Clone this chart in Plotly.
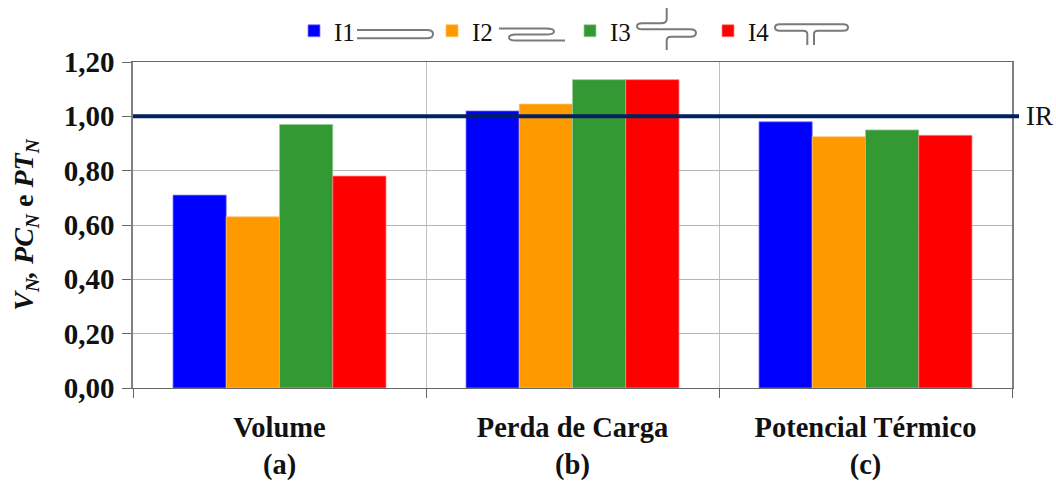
import re
import plotly.graph_objects as go

categories = ["Volume<br>(a)", "Perda de Carga<br>(b)", "Potencial Térmico<br>(c)"]
series_names = ["I1", "I2", "I3", "I4"]
i1 = [0.71, 1.02, 0.98]
i2 = [0.63, 1.045, 0.925]
i3 = [0.97, 1.135, 0.95]
i4 = [0.78, 1.135, 0.93]
colors = ["#0000FF", "#FF9900", "#339933", "#FF0000"]
edge_colors = ["#8080FF", "#FFC266", "#99CC99", "#FF8080"]
y_ticks = [0, 0.2, 0.4, 0.6, 0.8, 1.0, 1.2]
y_labels = ["0,00", "0,20", "0,40", "0,60", "0,80", "1,00", "1,20"]
ref_value = 1.0

W, H = 1056, 482
SERIF = "Liberation Serif, Times New Roman, serif"
L, R, T, B = 133, 1012, 62, 388   # plot area in window pixels

def px(x): return (x - L) / (R - L)
def py(y): return (B - y) / (B - T)

fig = go.Figure()
for name, vals, c, e in zip(series_names, [i1, i2, i3, i4], colors, edge_colors):
    fig.add_bar(name=name, x=categories, y=vals, marker=dict(color=c, line=dict(color=e, width=0.75)))

fig.add_shape(type="line", xref="paper", yref="y", x0=0, x1=px(1019), y0=ref_value, y1=ref_value,
              line=dict(color="#002060", width=4), layer="above")
fig.add_annotation(text="IR", xref="paper", yref="y", x=px(1024), y=ref_value, xanchor="left", yanchor="middle",
                   showarrow=False, font=dict(family=SERIF, size=27, color="#111111"))

# Pipe sketches beside the legend entries (window-pixel paths, converted to paper coordinates)
icon_paths = [
    "M 357 30 L 427 30 Q 433 30 433 34 Q 433 38.3 427 38.3 L 357 38.3",
    "M 499 28.5 L 546 28.5 Q 554 28.5 554 31.5 Q 554 34.5 546 34.5 L 516 34.5 Q 509 34.5 509 37.5 Q 509 40.5 516 40.5 L 565 40.5",
    "M 666.7 8 L 666.7 19 Q 666.7 23.3 661 23.3 L 642 23.3 Q 637 23.3 637 26.3 Q 637 29.3 642 29.3 L 690 29.3 Q 696 29.3 696 33 Q 696 36.7 690 36.7 L 671 36.7 Q 666.7 36.7 666.7 41 L 666.7 50",
    "M 807.3 45 L 807.3 34 Q 807.3 30.7 803 30.7 L 780 30.7 Q 775 30.7 775 27.5 Q 775 24.3 780 24.3 L 843 24.3 Q 848 24.3 848 27.5 Q 848 30.7 843 30.7 L 818 30.7 Q 814 30.7 814 34 L 814 45",
]

def to_paper(path):
    out, isx = [], True
    for t in path.split():
        if re.fullmatch(r"[A-Za-z]", t):
            out.append(t)
            isx = True
        else:
            v = float(t)
            out.append(f"{px(v):.5f}" if isx else f"{py(v):.5f}")
            isx = not isx
    return " ".join(out)

for d in icon_paths:
    fig.add_shape(type="path", path=to_paper(d), xref="paper", yref="paper",
                  line=dict(color="#7A7A7A", width=2), layer="above")

fig.update_layout(
    width=W, height=H, autosize=False,
    margin=dict(l=L, r=W - R, t=T, b=H - B, pad=0, autoexpand=False),
    paper_bgcolor="white", plot_bgcolor="white",
    barmode="group", bargap=0.273, bargroupgap=0,
    showlegend=True,
    legend=dict(orientation="h", x=px(294), y=py(8), xanchor="left", yanchor="top",
                entrywidth=93, entrywidthmode="pixels", itemwidth=30, traceorder="normal",
                font=dict(family=SERIF, size=25, color="#111111"), bgcolor="rgba(0,0,0,0)"),
    font=dict(family=SERIF, color="#111111"),
    xaxis=dict(type="category", tickson="boundaries", ticks="outside", ticklen=9, tickcolor="#666666",
               showgrid=True, gridcolor="#BFBFBF", gridwidth=1.25, showline=True, linecolor="#666666", linewidth=1,
               mirror=True, ticklabelstandoff=14, automargin=False,
               tickfont=dict(family=SERIF, size=28.5, color="#111111", weight="bold")),
    yaxis=dict(range=[0, 1.2], tickvals=y_ticks, ticktext=y_labels, ticks="outside", ticklen=9, tickcolor="#666666",
               showgrid=True, gridcolor="#B5B5B5", gridwidth=1, showline=True, linecolor="#808080", linewidth=1.5,
               mirror=True, ticklabelstandoff=2, zeroline=False, automargin=False,
               tickfont=dict(family=SERIF, size=29, color="#111111", weight="bold"),
               title=dict(text="<b><i>V<sub>N</sub>, PC<sub>N</sub></i> e <i>PT<sub>N</sub></i></b>",
                          font=dict(family=SERIF, size=28, color="#111111"), standoff=22)),
)
fig.write_html("out.html", default_width=f"{W}px", default_height=f"{H}px",
               config={"displayModeBar": False},
               post_script="document.body.style.margin='0';document.documentElement.style.overflow='hidden';")
